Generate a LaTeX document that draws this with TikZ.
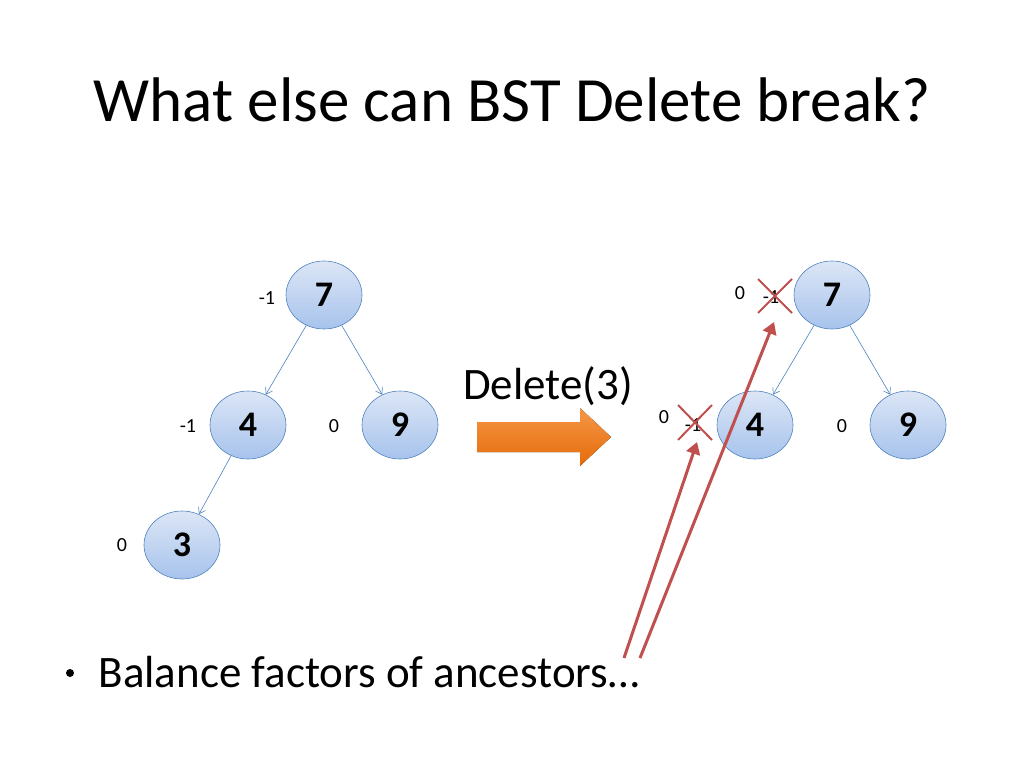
\documentclass[tikz,border=0pt]{standalone}
\usepackage{fontspec}
\setmainfont{Carlito}
\usetikzlibrary{shapes.geometric,arrows.meta}
\definecolor{accblue}{HTML}{4F81BD}
\definecolor{accred}{HTML}{C0504D}
\definecolor{orA}{HTML}{F79646}
\definecolor{orB}{HTML}{E46C0A}
\definecolor{nodeT}{HTML}{DCE6F6}
\definecolor{nodeB}{HTML}{A7C3EC}
\begin{document}
\begin{tikzpicture}[x=1pt,y=-1pt,
  tn/.style={ellipse,draw=accblue,line width=0.6pt,minimum width=76pt,minimum height=68pt,inner sep=0pt,
    top color=nodeT,bottom color=nodeB,font=\fontsize{36}{36}\selectfont\bfseries},
  edge/.style={draw=accblue,-{Straight Barb[length=6pt,width=8pt]},line width=0.6pt},
  bf/.style={font=\fontsize{20}{20}\selectfont},
  cross/.style={draw=accred,line width=2pt},
  redarr/.style={draw=accred,line width=3pt,-{Triangle[length=12pt,width=14pt]}}]
\useasboundingbox (0,0) rectangle (1024,768);
\node[font=\fontsize{63}{63}\selectfont] (title) at (512,100) {What else can BST Delete break?};
\node[tn] (a7) at (324,295) {7};
\node[tn] (a4) at (248,425) {4};
\node[tn] (a9) at (400,425) {9};
\node[tn] (a3) at (182,545) {3};
\draw[edge] (a7) -- (a4);
\draw[edge] (a7) -- (a9);
\draw[edge] (a4) -- (a3);
\node[bf] (la7) at (267,298) {-1};
\node[bf] (la4) at (188,426) {-1};
\node[bf] (la9) at (334,426) {0};
\node[bf] (la3) at (122,545) {0};
\node[tn] (b7) at (832,295) {7};
\node[tn] (b4) at (755,425) {4};
\node[tn] (b9) at (908,425) {9};
\draw[edge] (b7) -- (b4);
\draw[edge] (b7) -- (b9);
\node[bf] (lb9) at (842,426) {0};
\node[bf] (nb7) at (740,293) {0};
\node[bf] (ob7) at (771,297) {-1};
\node[bf] (nb4) at (664,417) {0};
\node[bf] (ob4) at (693,425) {-1};
\draw[cross] (758,279) -- (792,313) (792,279) -- (758,313);
\draw[cross] (678,405) -- (712,440) (712,405) -- (678,440);
\node[font=\fontsize{45}{45}\selectfont] (del) at (548,386) {Delete(3)};
\fill[top color=orA,bottom color=orB] (477,422) -- (580,422) -- (580,408) -- (611,437) -- (580,466) -- (580,452) -- (477,452) -- cycle;
\node[font=\fontsize{45}{45}\selectfont,anchor=west] (bul) at (95,672) {Balance factors of ancestors…};
\fill (70,673) circle (4pt);
\coordinate (s1) at (624,658);
\coordinate (s2) at (640,658);
\draw[redarr] (s1) -- (697,442);
\draw[redarr] (s2) -- (774,322);
\end{tikzpicture}
\end{document}
